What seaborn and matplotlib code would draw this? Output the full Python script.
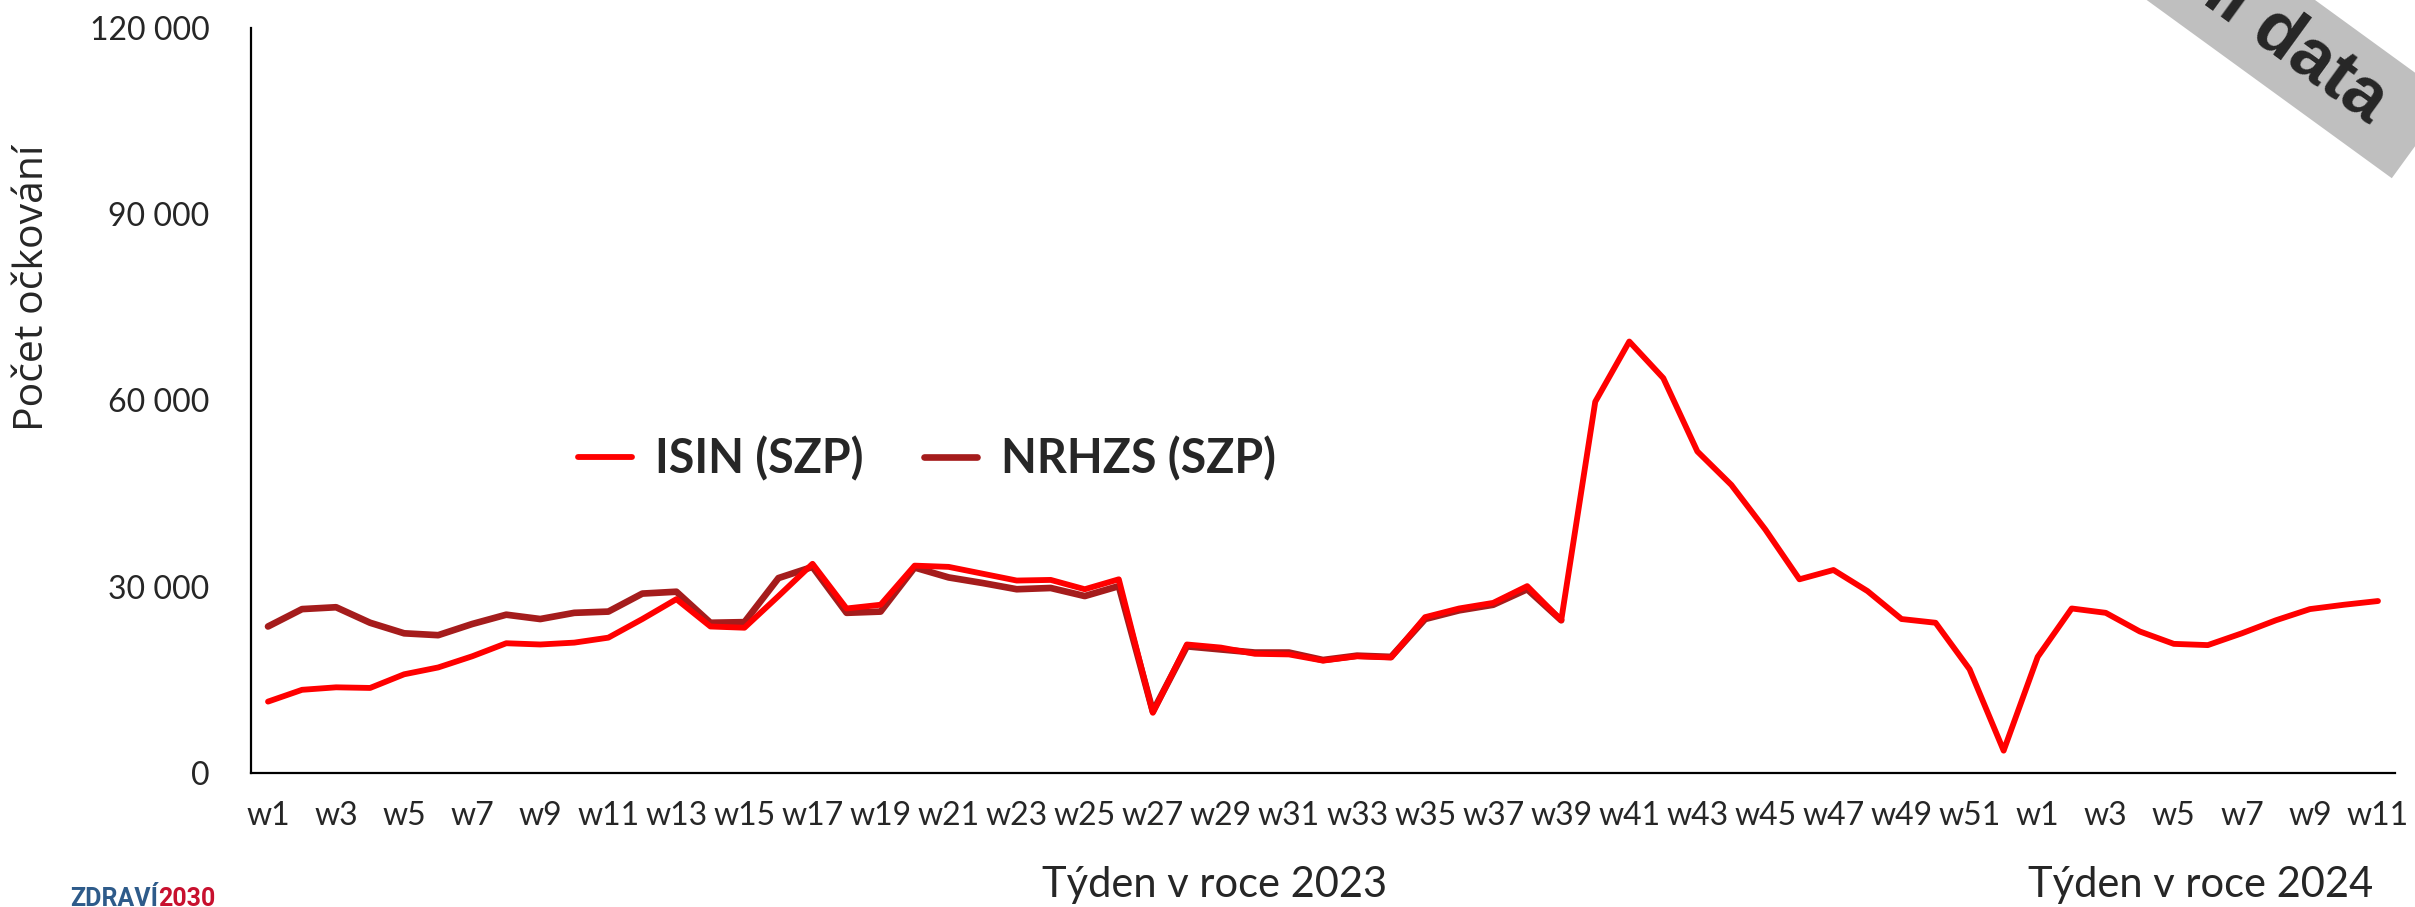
import matplotlib
matplotlib.use("Agg")
import numpy as np
import pandas as pd
import matplotlib.pyplot as plt
import seaborn as sns
from matplotlib.patches import Polygon

# rozměry výstupu v pixelech
W, H = 2415, 907

# týdny 2023 (w1..w52) a 2024 (w1..w11)
weeks = [f"2023-w{i}" for i in range(1, 53)] + [f"2024-w{i}" for i in range(1, 12)]
tick_labels = ["w1", "w3", "w5", "w7", "w9", "w11", "w13", "w15", "w17", "w19",
               "w21", "w23", "w25", "w27", "w29", "w31", "w33", "w35", "w37", "w39",
               "w41", "w43", "w45", "w47", "w49", "w51",
               "w1", "w3", "w5", "w7", "w9", "w11"]

# ISIN (SZP) - počet očkování po týdnech
isin_2023 = [11500, 13400, 13800, 13700, 15900, 17000, 18800, 20900, 20700, 21000,
             21800, 24800, 28000, 23600, 23400, 28500, 33700, 26500, 27100, 33400,
             33200, 32100, 31000, 31100, 29600, 31200, 9700, 20700, 20200, 19200,
             19100, 18100, 18800, 18600, 25100, 26500, 27400, 30100, 24600, 59800,
             69500, 63600, 51800, 46400, 39200, 31200, 32700, 29300, 24800, 24200,
             16700, 3600]
isin_2024 = [18700, 26500, 25800, 22800, 20800, 20600, 22500, 24600, 26400, 27100, 27700]

# NRHZS (SZP) - jen do w39 2023
nrhzs_2023 = [23600, 26400, 26700, 24200, 22500, 22200, 24000, 25500, 24800, 25800,
              26000, 28900, 29200, 24200, 24300, 31400, 33200, 25800, 26000, 33100,
              31500, 30600, 29600, 29800, 28500, 30100, 9900, 20400, 19900, 19400,
              19400, 18200, 18900, 18700, 24800, 26200, 27100, 29600, 24600]

y_ticks = [0, 30000, 60000, 90000, 120000]
y_tick_labels = ["0", "30 000", "60 000", "90 000", "120 000"]

isin = isin_2023 + isin_2024
df_isin = pd.DataFrame({"pos": np.arange(len(isin)), "value": isin})
df_nrhzs = pd.DataFrame({"pos": np.arange(len(nrhzs_2023)), "value": nrhzs_2023})

sns.set_style("white")
plt.rcParams["font.family"] = ["Lato", "DejaVu Sans"]

fig = plt.figure(figsize=(W / 100, H / 100), dpi=100)
ax = fig.add_axes([251 / W, 1 - 773 / H, (2395 - 251) / W, (773 - 28) / H])

sns.lineplot(data=df_nrhzs, x="pos", y="value", ax=ax, color="#a51c1c", linewidth=4.8,
             label="NRHZS (SZP)", errorbar=None, solid_joinstyle="round",
             solid_capstyle="round", zorder=2)
sns.lineplot(data=df_isin, x="pos", y="value", ax=ax, color="#ff0000", linewidth=4.2,
             label="ISIN (SZP)", errorbar=None, solid_joinstyle="round",
             solid_capstyle="round", zorder=3)

ax.set_xlim(-0.5, len(weeks) - 0.5)
ax.set_ylim(0, 120000)
ax.set_xticks(range(0, len(weeks), 2))
ax.set_xticklabels(tick_labels, fontsize=23)
ax.set_yticks(y_ticks)
ax.set_yticklabels(y_tick_labels, fontsize=23)
ax.tick_params(axis="x", length=0, pad=20)
ax.tick_params(axis="y", length=0, pad=30)
ax.set_xlabel("")
ax.set_ylabel("")
for side in ["top", "right"]:
    ax.spines[side].set_visible(False)
for side in ["left", "bottom"]:
    ax.spines[side].set_color("black")
    ax.spines[side].set_linewidth(1.6)

handles, labels = ax.get_legend_handles_labels()
order = [labels.index("ISIN (SZP)"), labels.index("NRHZS (SZP)")]
ax.legend([handles[i] for i in order], [labels[i] for i in order],
          loc="center left", bbox_to_anchor=(578 / W, 1 - 459 / H),
          bbox_transform=fig.transFigure, ncol=2, frameon=False,
          prop={"family": "Lato", "weight": "bold", "size": 33.5},
          handlelength=1.15, handletextpad=0.5, columnspacing=1.3,
          borderpad=0, borderaxespad=0)

# popisky os
fig.text(33 / W, 1 - 288 / H, "Počet očkování", rotation=90, ha="center", va="center",
         fontsize=29.5, family="Open Sans")
fig.text(1215 / W, 1 - 897 / H, "Týden v roce 2023", ha="center", va="baseline", fontsize=30)
fig.text(2201 / W, 1 - 897 / H, "Týden v roce 2024", ha="center", va="baseline", fontsize=30)

# šedý pruh v pravém horním rohu
band_px = [(2391.8, 178.2), (2450, 98.1), (2043, -197.7), (1984.9, -117.6)]
band = Polygon([(x / W, 1 - y / H) for x, y in band_px], closed=True,
               transform=fig.transFigure, facecolor="#bfbfbf", edgecolor="none")
fig.add_artist(band)
fig.text(2380 / W, 1 - 108 / H, "Orientační data", rotation=-36, rotation_mode="anchor",
         ha="right", va="center", fontsize=52, fontweight="bold", family="Liberation Sans")

# logo vlevo dole (u spodního okraje)
logo_a = fig.text(70 / W, 1 - 906 / H, "ZDRAVÍ", ha="left", va="baseline", fontsize=18,
                  fontweight="bold", color="#2e5b8a", family="Roboto")
fig.canvas.draw()
bb = logo_a.get_window_extent()
fig.text(bb.x1 / W, 1 - 906 / H, "2030", ha="left", va="baseline", fontsize=18,
         fontweight="bold", color="#c8102e", family="Roboto")

fig.savefig("out.png", dpi=100, facecolor="white")
